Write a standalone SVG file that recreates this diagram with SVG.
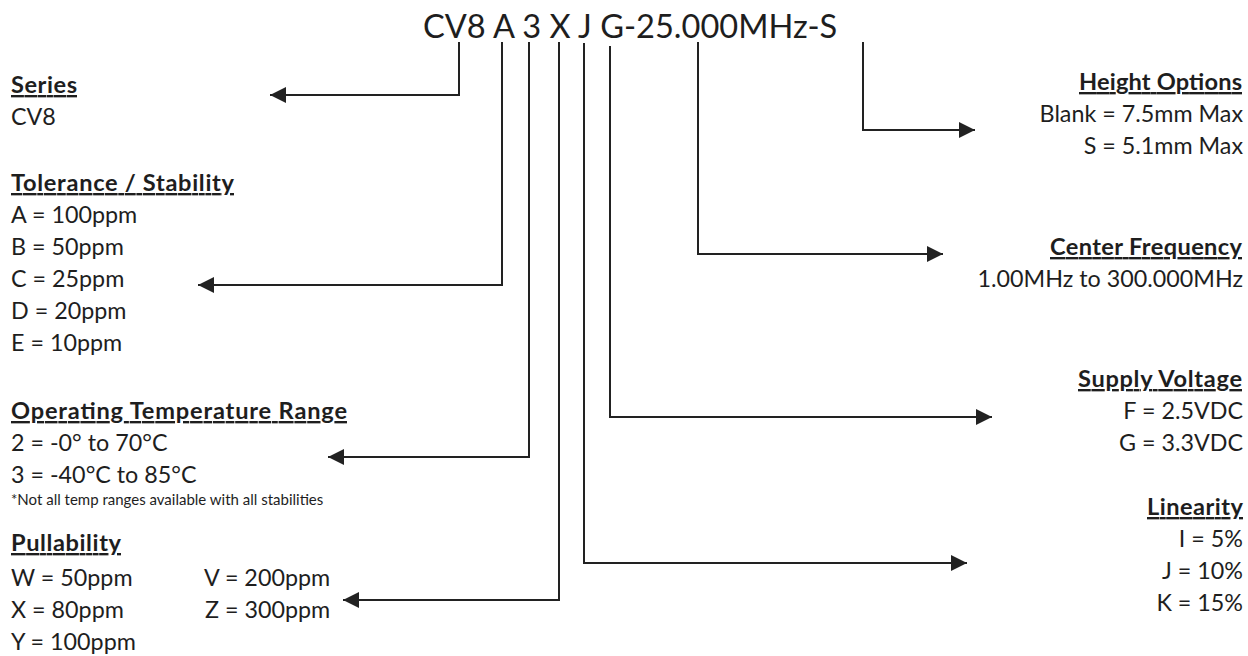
<svg xmlns="http://www.w3.org/2000/svg" width="1248" height="656" viewBox="0 0 1248 656">
<style>
text { font-family: Lato, "Open Sans", "Liberation Sans", sans-serif; fill: #1e1e1e; }
.t { font-size: 32.6px; }
.b { font-size: 23.3px; }
.h { font-size: 23.6px; font-weight: bold; text-decoration: underline; }
.n { font-size: 15px; }
.r { text-anchor: end; }
.c { fill: none; stroke: #222; stroke-width: 2; marker-end: url(#ah); }
</style>
<defs>
<marker id="ah" markerUnits="userSpaceOnUse" markerWidth="16" markerHeight="16" refX="16" refY="8" orient="auto" viewBox="0 0 16 16"><path d="M0,0 L16,8 L0,16 z" fill="#222"/></marker>
</defs>
<rect width="1248" height="656" fill="#fff"/>
<g id="title"><text class="t" x="423" y="38">CV8 A 3 X J G-25.000MHz-S</text></g>
<g id="connectors">
<path class="c" d="M459,42 V95 H270"/>
<path class="c" d="M502,42 V285 H198"/>
<path class="c" d="M529,42 V457 H328"/>
<path class="c" d="M559,42 V600 H343"/>
<path class="c" d="M584,43 V563 H967"/>
<path class="c" d="M610,46 V417 H992"/>
<path class="c" d="M698,42 V254 H943"/>
<path class="c" d="M863,42 V130 H975"/>
</g>
<g id="series"><text class="h" x="11" y="93" textLength="66">Series</text><text class="b" x="11" y="125">CV8</text></g>
<g id="tolerance"><text class="h" x="11" y="191" textLength="223">Tolerance / Stability</text>
<text class="b" x="11" y="223">A = 100ppm</text><text class="b" x="11" y="255">B = 50ppm</text><text class="b" x="11" y="287">C = 25ppm</text><text class="b" x="11" y="319">D = 20ppm</text><text class="b" x="11" y="351">E = 10ppm</text></g>
<g id="temperature"><text class="h" x="11" y="419" textLength="336">Operating Temperature Range</text>
<text class="b" x="11" y="451">2 = -0° to 70°C</text><text class="b" x="11" y="483">3 = -40°C to 85°C</text>
<text class="n" x="11" y="505">*Not all temp ranges available with all stabilities</text></g>
<g id="pullability"><text class="h" x="11" y="551" textLength="110">Pullability</text>
<text class="b" x="11" y="586">W = 50ppm</text><text class="b" x="11" y="618">X = 80ppm</text><text class="b" x="11" y="650">Y = 100ppm</text>
<text class="b" x="204" y="586">V = 200ppm</text><text class="b" x="205" y="618">Z = 300ppm</text></g>
<g id="height"><text class="h" x="1079" y="90" textLength="163">Height Options</text><text class="b r" x="1243" y="122">Blank = 7.5mm Max</text><text class="b r" x="1243" y="154">S = 5.1mm Max</text></g>
<g id="frequency"><text class="h" x="1050" y="255" textLength="192">Center Frequency</text><text class="b r" x="1243" y="287">1.00MHz to 300.000MHz</text></g>
<g id="voltage"><text class="h" x="1078" y="387" textLength="164">Supply Voltage</text><text class="b r" x="1243" y="419">F = 2.5VDC</text><text class="b r" x="1243" y="451">G = 3.3VDC</text></g>
<g id="linearity"><text class="h" x="1147" y="515" textLength="96">Linearity</text><text class="b r" x="1243" y="547">I = 5%</text><text class="b r" x="1243" y="579">J = 10%</text><text class="b r" x="1243" y="611">K = 15%</text></g>
</svg>
